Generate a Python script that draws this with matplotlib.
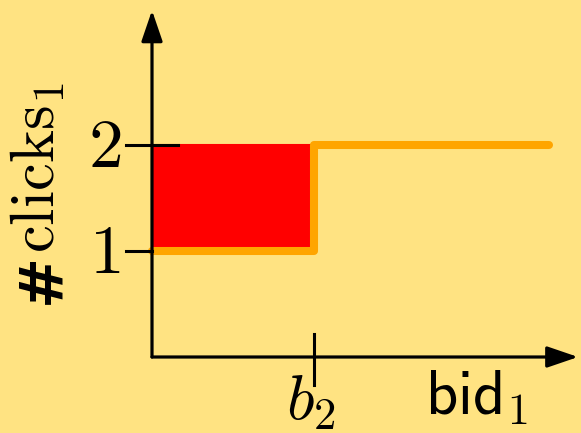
import matplotlib.pyplot as plt

plt.rcParams['mathtext.fontset'] = 'cm'

# step curve of clicks against bid
step_x = [0, 1, 1, 2.45]
step_y = [1, 1, 2, 2]
# shaded region between b2 and the curve
fill_x = [0, 1]
fill_low = [1, 1]
fill_high = [2, 2]
ytick_vals = [1, 2]
ytick_labels = [r'$\mathsf{1}$', r'$\mathsf{2}$']
xtick_vals = [1]
xtick_labels = [r'$b_2$']

bg = '#FFE382'
fig = plt.figure(figsize=(5.81, 4.33), dpi=100, facecolor=bg)
ax = fig.add_axes([0, 0, 1, 1])
ax.set_facecolor(bg)
ax.set_xlim(-152 / 162, (581 - 152) / 162)
ax.set_ylim((357 - 433) / 106, 357 / 106)
ax.axis('off')

ax.fill_between(fill_x, fill_low, fill_high, color='red', lw=1.5, zorder=1)
ax.plot(step_x, step_y, color='orange', lw=5.8, solid_joinstyle='round',
        solid_capstyle='round', zorder=2)

# axes with arrow heads
arr = dict(arrowstyle='-|>,head_length=1.9,head_width=0.65', lw=2.3, color='black',
           mutation_scale=10, shrinkA=0, shrinkB=0)
ax.annotate('', xy=(2.63, 0), xytext=(0, 0), arrowprops=arr, zorder=3)
ax.annotate('', xy=(0, 3.27), xytext=(0, 0), arrowprops=arr, zorder=3)

# ticks
for v, lab in zip(ytick_vals, ytick_labels):
    right = 0.16 if v == 2 else 0
    ax.plot([-0.16, right], [v, v], color='black', lw=2.2, zorder=3)
    ax.text(-0.29, v - 0.02, lab, fontsize=50, ha='center', va='center')
for v, lab in zip(xtick_vals, xtick_labels):
    ax.plot([v, v], [-0.26, 0.22], color='black', lw=2.2, zorder=3)
    ax.text(v - 0.02, -0.42, lab, fontsize=46, ha='center', va='center')

ax.text(2.0, -0.38, r'$\mathsf{bid}_1$', fontsize=45, ha='center', va='center')
# y label: heavy "#" then "clicks_1"
ax.text(-0.68, 0.74, '#', fontsize=44, fontweight='bold', ha='center',
        va='center', rotation=90, family='DejaVu Sans')
ax.text(-0.71, 1.79, r'$\mathrm{clicks}_1$', fontsize=45, ha='center',
        va='center', rotation=90)

fig.savefig('out.png', dpi=100, facecolor=bg)
